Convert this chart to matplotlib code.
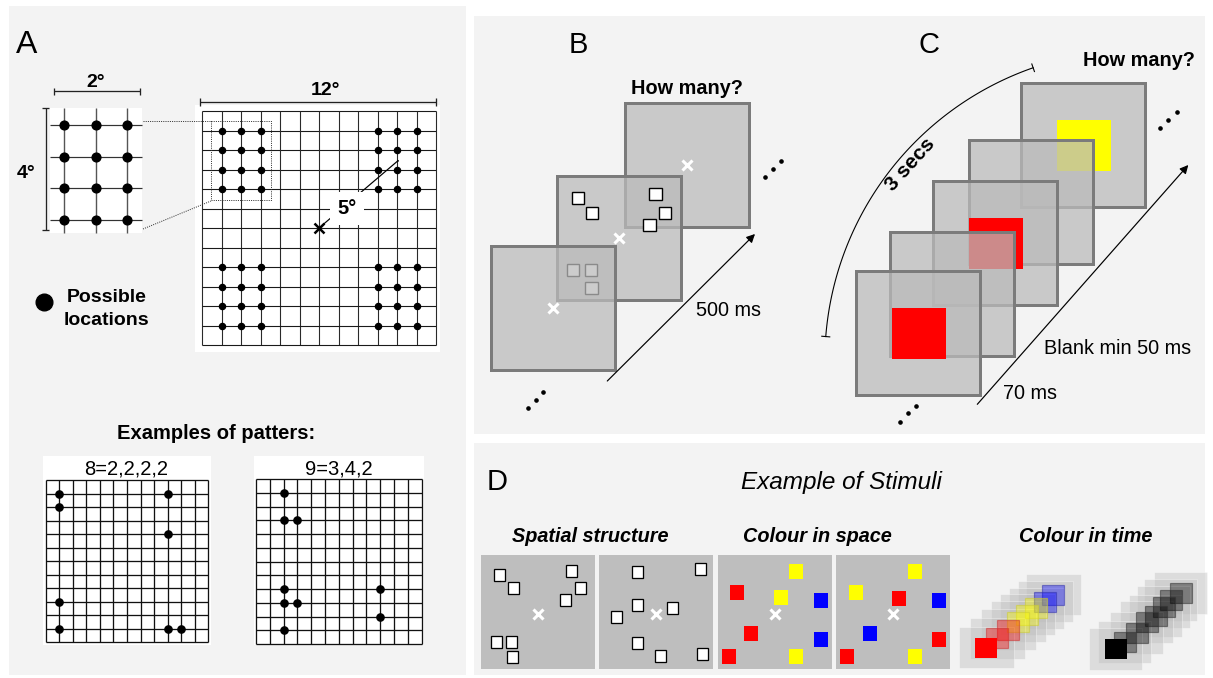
import numpy as np
import matplotlib
matplotlib.use('Agg')
import matplotlib.pyplot as plt
from matplotlib.patches import Rectangle, FancyArrowPatch

plt.rcParams['font.family'] = ['Liberation Sans', 'DejaVu Sans']

# ---------------- data ----------------
W, H = 1213, 678

# Panel A : 12x12 grid with possible locations
big_grid_n = 12
big_dot_cols = [1, 2, 3, 9, 10, 11]
big_dot_rows = [1, 2, 3, 4, 8, 9, 10, 11]
inset_hlines = [125, 157, 188, 220]
inset_vlines = [64, 96, 127]
scale_labels = ["2°", "4°", "12°", "5°"]

# example patterns (column, row on a 12x12 grid)
ex_labels = ["8=2,2,2,2", "9=3,4,2"]
ex1_cols = [1, 1, 9, 9, 1, 1, 9, 10]
ex1_rows = [1, 2, 1, 4, 9, 11, 11, 11]
ex2_cols = [2, 2, 3, 2, 2, 3, 2, 9, 9]
ex2_rows = [1, 3, 3, 8, 9, 9, 11, 8, 10]

# Panel B : screens (back to front)
B_screen_x = [625, 557, 491]
B_screen_y = [103, 176, 246]
B_sq_x = [578, 592, 655.5, 665, 649.5, 573, 591, 591.5]
B_sq_y = [198, 213, 194, 213, 225, 270, 270, 288]

# Panel C : screens (back to front) and target colours
C_screen_x = [1021, 969, 933, 890, 856]
C_screen_y = [83, 140, 181, 232, 271]
C_target = ['#ffff00', None, '#ff0000', None, '#ff0000']

# Panel D : stimuli examples
D_panel_x = [481, 599, 718, 836]
D1_x = [499.3, 513.3, 571.7, 580, 565.7, 496.7, 511.7, 512.3]
D1_y = [575, 588.3, 571, 588.3, 600, 641.7, 641.7, 657.3]
D2_x = [637.7, 700, 637.7, 672.3, 616.7, 637.7, 660, 702.7]
D2_y = [571.7, 569, 605, 607.7, 616.7, 642.7, 656, 654.3]
D3_x = [796, 736.7, 781, 821, 751, 821, 729, 796]
D3_y = [571.7, 592.3, 597.3, 600.3, 633.3, 639.3, 656.3, 656.3]
D3_c = ['yellow', 'red', 'yellow', 'blue', 'red', 'blue', 'red', 'yellow']
D4_x = [915, 856, 899, 939, 870, 939, 846.7, 915]
D4_y = [571.7, 592.3, 598.3, 600.3, 633.3, 639.3, 656.3, 656.3]
D4_c = ['yellow', 'yellow', 'red', 'blue', 'blue', 'red', 'red', 'yellow']

# colour in time stacks (index 0 = front)
T1_sq_x = [975, 986, 997.3, 1007.3, 1016, 1025, 1034.3, 1042.3]
T1_sq_y = [637.7, 628.3, 620, 611.7, 605, 598.3, 591.7, 585]
T1_c = ['red', 'red', 'red', 'yellow', 'yellow', 'yellow', 'blue', 'blue']
T2_sq_x = [1105, 1114, 1126, 1136, 1145, 1153, 1160, 1170]
T2_sq_y = [639, 631.7, 622.7, 612, 605.7, 597, 590, 582.7]
T2_c = ['black'] * 8

COLS = {'red': '#ff0000', 'yellow': '#ffff00', 'blue': '#0000ff', 'black': '#000000'}
EDGE = {'red': '#cc3333', 'yellow': '#cccc33', 'blue': '#3333aa', 'black': '#333333'}

# ---------------- drawing ----------------
fig = plt.figure(figsize=(W / 100, H / 100), dpi=100)
ax = fig.add_axes([0, 0, 1, 1])
ax.set_xlim(0, W)
ax.set_ylim(H, 0)
ax.axis('off')
fig.patch.set_facecolor('white')

BG = '#f3f3f3'
PX = 0.72


def rect(x, y, w, h, z=1, **kw):
    ax.add_patch(Rectangle((x, y), w, h, zorder=z, **kw))


def line(xs, ys, z=3, **kw):
    ax.plot(xs, ys, zorder=z, solid_capstyle='butt', **kw)


def txt(x, y, s, size, weight='normal', style='normal', ha='center', va='baseline', z=6, **kw):
    ax.text(x, y, s, fontsize=size, fontweight=weight, fontstyle=style,
            ha=ha, va=va, zorder=z, **kw)


# panel backgrounds
rect(9, 6, 457, 669, z=0, fc=BG, ec='none')
rect(474, 16, 731, 418, z=0, fc=BG, ec='none')
rect(474, 443, 731, 232, z=0, fc=BG, ec='none')

# panel letters
txt(26.5, 53.3, 'A', 23)
txt(578.5, 53, 'B', 21)
txt(929, 53.3, 'C', 21)
txt(497, 490, 'D', 21)

# ---- Panel A ----
# inset
rect(50, 108, 92, 125, fc='white', ec='none')
for yy in inset_hlines:
    line([50, 142], [yy, yy], color='#333333', lw=1.2 * PX)
for xx in inset_vlines:
    line([xx, xx], [108, 233], color='#555555', lw=1.4 * PX)
IX, IY = np.meshgrid(inset_vlines, inset_hlines)
ax.plot(IX.ravel(), IY.ravel(), 'o', color='black', ms=6.3, zorder=4)
# scale bars
line([53.5, 139.5], [91, 91], color='#222', lw=1.3 * PX)
for xx in [53.5, 139.5]:
    line([xx, xx], [87.5, 94.5], color='#222', lw=1.3 * PX)
txt(96, 87.3, scale_labels[0], 14, 'bold')
line([45.5, 45.5], [108, 230], color='#222', lw=1.3 * PX)
for yy in [108, 230]:
    line([42, 49], [yy, yy], color='#222', lw=1.3 * PX)
txt(26, 178.3, scale_labels[1], 14, 'bold')

# big grid
gx0, gy0, gx1, gy1 = 202, 111, 436, 345
cell = (gx1 - gx0) / big_grid_n
rect(195, 105, 245, 247, fc='white', ec='none')
for k in range(big_grid_n + 1):
    line([gx0 + k * cell] * 2, [gy0, gy1], color='#2a2a2a', lw=1.1 * PX)
    line([gx0, gx1], [gy0 + k * cell] * 2, color='#1a1a1a', lw=1.1 * PX)
BXc, BYr = np.meshgrid(big_dot_cols, big_dot_rows)
ax.plot(gx0 + BXc.ravel() * cell, gy0 + BYr.ravel() * cell, 'o', color='black', ms=4.4, zorder=4)
line([200, 436], [101.7, 101.7], color='#222', lw=1.3 * PX)
for xx in [200, 436]:
    line([xx, xx], [98, 105.5], color='#222', lw=1.3 * PX)
txt(325, 95, scale_labels[2], 14, 'bold')

# dotted zoom box and connectors
ax.add_patch(Rectangle((211, 120.7), 60, 79.3, fill=False, ec='#333', lw=1.0 * PX,
                       ls=(0, (1, 1.2)), zorder=5))
line([143, 211], [121, 121], color='#333', lw=1.0 * PX, ls=(0, (1, 1.2)), z=5)
line([143, 211], [229, 201], color='#333', lw=1.0 * PX, ls=(0, (1, 1.2)), z=5)

# eccentricity
cx_, cy_ = gx0 + 6 * cell, gy0 + 6 * cell
ax.add_patch(FancyArrowPatch((cx_, cy_), (398, 160.7), arrowstyle='-[, widthB=0.35, lengthB=0',
                             lw=1.2 * PX, color='black', zorder=5, shrinkA=0, shrinkB=0))
ax.plot([cx_], [cy_], marker='x', color='black', ms=7, mew=1.8, zorder=6)
txt(347, 214, scale_labels[3], 14.5, 'bold', z=7,
    bbox=dict(fc='white', ec='none', boxstyle='square,pad=0.35'))

# legend for dots
ax.plot([44], [301.7], 'o', color='black', ms=12, zorder=4)
txt(106.5, 301.7, 'Possible', 14, 'bold')
txt(106.5, 325, 'locations', 14, 'bold')

txt(216, 439, 'Examples of patters:', 14.5, 'bold')


def example_grid(x0, y0, x1, y1, cols, rows, label, tx):
    rect(x0 - 2.5, 456, (x1 - x0) + 5, 189, fc='white', ec='none')
    cw = (x1 - x0) / 12
    ch = (y1 - y0) / 12
    for k in range(13):
        line([x0 + k * cw] * 2, [y0, y1], color='#111', lw=1.3 * PX)
        line([x0, x1], [y0 + k * ch] * 2, color='#111', lw=1.3 * PX)
    ax.plot(x0 + np.array(cols) * cw, y0 + np.array(rows) * ch, 'o', color='black', ms=5.2, zorder=4)
    txt(tx, 474.5, label, 14.5)


example_grid(45.7, 480, 208.3, 642, ex1_cols, ex1_rows, ex_labels[0], 126.5)
example_grid(256, 479.3, 421.7, 644, ex2_cols, ex2_rows, ex_labels[1], 339)

# ---- Panel B ----
SCR_FACE = (187 / 255, 187 / 255, 187 / 255, 0.74)
SCR_EDGE = '#7b7b7b'
S = 124
z = 10
for i, (sx, sy) in enumerate(zip(B_screen_x, B_screen_y)):
    rect(sx, sy, S, S, z=z, fc=SCR_FACE, ec=SCR_EDGE, lw=3 * PX)
    ax.plot([sx + S / 2], [sy + S / 2], marker='x', color='white', ms=7, mew=2.2, zorder=z + 1)
    z += 2
    if i == 1:
        for qx, qy in zip(B_sq_x, B_sq_y):
            rect(qx - 6.3, qy - 6.3, 12.6, 12.6, z=z, fc='white', ec='black', lw=1.4 * PX)
        z += 1

ax.add_patch(FancyArrowPatch((607.3, 381), (755, 234), arrowstyle='-|>,head_length=5,head_width=2.5',
                             lw=1.2 * PX, color='black', zorder=30, shrinkA=0, shrinkB=0))
txt(729, 316, '500 ms', 14.3)
txt(687, 94, 'How many?', 14.3, 'bold')
ax.plot([527.7, 535.7, 543], [407.7, 400, 391.7], 'o', color='black', ms=2.3, zorder=30)
ax.plot([765, 772.7, 780.7], [177.3, 169.3, 160.7], 'o', color='black', ms=2.3, zorder=30)

# ---- Panel C ----
z = 40
for sx, sy, col in zip(C_screen_x, C_screen_y, C_target):
    rect(sx, sy, S, S, z=z, fc=SCR_FACE, ec=SCR_EDGE, lw=3 * PX)
    z += 1
    if col is not None:
        rect(sx + 35.5, sy + 37, 54, 51, z=z, fc=col, ec='none')
    z += 1

ax.add_patch(FancyArrowPatch((977.3, 404.3), (1188.3, 165), arrowstyle='-|>,head_length=5,head_width=2.5',
                             lw=1.2 * PX, color='black', zorder=70, shrinkA=0, shrinkB=0))
txt(1118, 354.3, 'Blank min 50 ms', 14.3)
txt(1030, 399.3, '70 ms', 14.3)
txt(1138.5, 66, 'How many?', 14.3, 'bold')
ax.plot([900, 908.3, 916], [422.3, 413.3, 405.7], 'o', color='black', ms=2.3, zorder=70)
ax.plot([1160, 1168.3, 1176.7], [128.3, 120, 111.7], 'o', color='black', ms=2.3, zorder=70)

# 3 secs arc
acx, acy, R = 1135.2, 360.9, 310.4
t = np.radians(np.linspace(184.5, 250.8, 100))
ax.plot(acx + R * np.cos(t), acy + R * np.sin(t), color='black', lw=1.1 * PX, zorder=70)
for tt in [t[0], t[-1]]:
    ux, uy = np.cos(tt), np.sin(tt)
    px, py = acx + R * ux, acy + R * uy
    ax.plot([px - 4 * ux, px + 4 * ux], [py - 4 * uy, py + 4 * uy], color='black', lw=1.1 * PX, zorder=70)
txt(910, 165, '3 secs', 15, 'bold', va='center', rotation=48, rotation_mode='anchor', z=71)

# ---- Panel D ----
txt(841, 489, 'Example of Stimuli', 17.5, style='italic')
txt(590, 542, 'Spatial structure', 14.3, 'bold', 'italic')
txt(817, 542, 'Colour in space', 14.3, 'bold', 'italic')
txt(1086, 542, 'Colour in time', 14.3, 'bold', 'italic')

P = 114
for px_ in D_panel_x:
    rect(px_, 555, P, P, z=80, fc='#bebebe', ec='none')
    ax.plot([px_ + P / 2], [555 + P / 2 + 2], marker='x', color='white', ms=7, mew=2.2, zorder=83)

for xs, ys in [(D1_x, D1_y), (D2_x, D2_y)]:
    for qx, qy in zip(xs, ys):
        rect(qx - 5.0, qy - 5.5, 11.5, 12.5, z=81, fc='#777777', ec='none')
        rect(qx - 5.5, qy - 6.0, 11, 12, z=82, fc='white', ec='black', lw=1.3 * PX)

for xs, ys, cs in [(D3_x, D3_y, D3_c), (D4_x, D4_y, D4_c)]:
    for qx, qy, c in zip(xs, ys, cs):
        rect(qx - 7, qy - 7.5, 14, 15, z=82, fc=COLS[c], ec='none')


def time_stack(sq_x, sq_y, cs, gw, gh):
    n = len(sq_x)
    zz = 90
    for i in range(n - 1, -1, -1):
        rect(sq_x[i] - 16.5, sq_y[i] - 10.7, gw, gh, z=zz, fc=(0.74, 0.74, 0.74, 0.42),
             ec=(1, 1, 1, 0.35), lw=1.0 * PX)
        zz += 1
    for i in range(n - 1, -1, -1):
        c = COLS[cs[i]]
        if i == 0:
            rect(sq_x[i], sq_y[i], 21.5, 20, z=zz, fc=c, ec='none')
        else:
            rect(sq_x[i], sq_y[i], 21.5, 20, z=zz, fc=(*matplotlib.colors.to_rgb(c), 0.38),
                 ec=(*matplotlib.colors.to_rgb(EDGE[cs[i]]), 0.55), lw=1.2 * PX)
        zz += 1


time_stack(T1_sq_x, T1_sq_y, T1_c, 55, 41)
time_stack(T2_sq_x, T2_sq_y, T2_c, 53, 42)

fig.savefig('out.png', dpi=100, facecolor='white')
